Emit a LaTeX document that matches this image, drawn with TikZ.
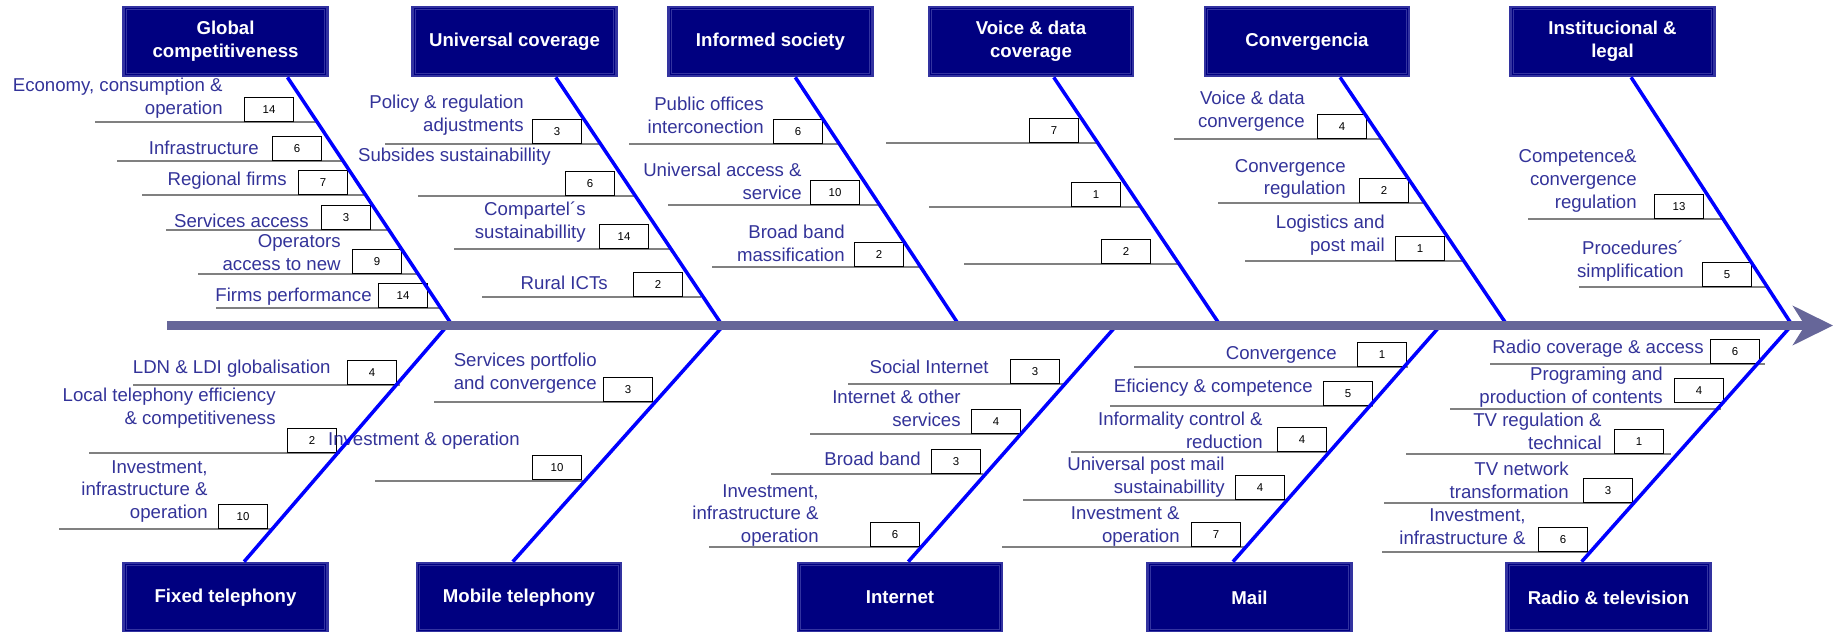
\documentclass[tikz,border=0pt]{standalone}
\usepackage{fontspec}
\setmainfont{Liberation Sans}
\usetikzlibrary{arrows.meta,calc}

\definecolor{headfill}{RGB}{0,0,128}
\definecolor{headedge}{RGB}{51,51,160}
\definecolor{lblblue}{RGB}{51,51,153}
\definecolor{spinegray}{RGB}{102,102,153}
\definecolor{boneblue}{RGB}{0,0,255}
\definecolor{ribgray}{RGB}{128,128,128}

\begin{document}
\begin{tikzpicture}[x=0.02cm, y=-0.02cm]
    \tikzstyle{causebox} = [draw=headedge, line width=1.5pt, fill=headfill, text=white, font=\fontsize{10.6}{13}\selectfont\bfseries, align=center, minimum width=4.08cm, minimum height=1.38cm, inner sep=0pt]
    \tikzstyle{lbl} = [anchor=east, align=right, inner sep=0pt, text=lblblue, font=\fontsize{10.6}{13}\selectfont]
    \tikzstyle{num} = [draw, line width=0.6pt, fill=white, anchor=south west, minimum width=0.98cm, minimum height=0.48cm, inner sep=0pt, font=\fontsize{6.5}{8}\selectfont]
    \tikzstyle{rib} = [draw=ribgray, line width=0.8pt]
    \tikzstyle{bone} = [draw=boneblue, line width=2pt]
    \tikzstyle{spine} = [draw=spinegray, line width=5.1pt, -{Stealth[length=0.8cm, width=0.78cm, inset=0.24cm]}]
    \useasboundingbox (0,0) rectangle (1833,632);

    % causes above the spine
    \node[causebox] (gc) at (225.5,41.5) {Global\\competitiveness};
    \node[causebox] (uc) at (514.5,41.5) {Universal coverage};
    \node[causebox] (is) at (770.5,41.5) {Informed society};
    \node[causebox] (vd) at (1031,41.5) {Voice \& data\\coverage};
    \node[causebox] (cv) at (1307,41.5) {Convergencia};
    \node[causebox] (il) at (1612.5,41.5) {Institucional \&\\legal};
    % causes below the spine
    \node[causebox] (ft) at (225.5,597.5) {Fixed telephony};
    \node[causebox] (mt) at (519,597.5) {Mobile telephony};
    \node[causebox] (it) at (900,597.5) {Internet};
    \node[causebox] (ml) at (1249.5,597.5) {Mail};
    \node[causebox] (rt) at (1608.5,597.5) {Radio \& television};
    \foreach \b in {gc,uc,is,vd,cv,il,ft,mt,it,ml,rt}
        \draw[headedge, line width=0.5pt] ($(\b.south west)+(4,-4)$) rectangle ($(\b.north east)+(-4,4)$);

    % name / text x,y / box x,bottom / value / line y,left,right / text
    \def\riblist{
        g1/223/98.5/244/122/14/122/95/318/{Economy, consumption \&\\operation},
        g2/259/148/272/161/6/161/117/344/{Infrastructure},
        g3/287/181/298/195/7/195/142/367/{Regional firms},
        g4/309/221/321/230/3/230/166/390/{Services access},
        g5/341/253/352/274/9/274/198/419/{Operators\\access to new},
        g6/372/297/378/308/14/308/216/442/{Firms performance},
        u1/524/115.5/532/144/3/144/385/600/{Policy \& regulation\\adjustments},
        u2/551/157/565/196/6/196/418/635/{Subsides sustainabillity},
        u3/586/222/599/249/14/249/454/670/{Compartel´s\\sustainabillity},
        u4/608/283/633/297/2/297/482/701/{Rural ICTs},
        i1/764/115.5/773/144/6/144/629/840/{Public offices\\interconection},
        i2/802/181/810/205/10/205/668/880/{Universal access \&\\service},
        i3/845/243.5/854/267/2/267/712/922/{Broad band\\massification},
        v1/1020/131/1029/143/7/143/886/1098/{},
        v2/1062/195/1071/207/1/207/929/1142/{},
        v3/1092/252/1101/264/2/264/964/1180/{},
        c1/1305/111.5/1317/139/4/139/1174/1383/{Voice \& data\\convergence},
        c2/1346/179/1359/203/2/203/1218/1426/{Convergence\\regulation},
        c3/1385/235/1395/261/1/261/1245/1465/{Logistics and\\post mail},
        l1/1637/181/1654/219/13/219/1528/1723/{Competence\&\\convergence\\regulation},
        l2/1684/261/1702/287/5/287/1579/1769/{Procedures´\\simplification},
        f1/331/369/347/385/4/385/133/400/{LDN \& LDI globalisation},
        f2/276/408/287/453/2/453/89/340/{Local telephony efficiency\\\& competitiveness},
        f3/208/491.5/218/529/10/529/59/272/{Investment,\\infrastructure \&\\operation},
        m1/597/373.5/603/402/3/402/434/657/{Services portfolio\\and convergence},
        m2/520/441/532/480/10/481/375/586/{Investment \& operation},
        n1/989/367/1010/384/3/384/848/1064/{Social Internet},
        n2/961/408/971/434/4/434/810/1019/{Internet \& other\\services},
        n3/921/459/931/474/3/474/771/983/{Broad band},
        n4/819/515.5/870/547/6/547/709/918/{Investment,\\infrastructure \&\\operation},
        p1/1337/355/1357/367/1/367/1134/1408/{Convergence},
        p2/1313/388/1323/406/5/406/1110/1373/{Eficiency \& competence},
        p3/1263/430/1277/452/4/452/1071/1331/{Informality control \&\\reduction},
        p4/1225/477.5/1235/500/4/500/1023/1287/{Universal post mail\\sustainabillity},
        p5/1180/526.5/1191/547/7/547/1002/1245/{Investment \&\\operation},
        r1/1704/349/1710/364/6/364/1490/1765/{Radio coverage \& access},
        r2/1663/387/1674/403/4/409/1450/1721/{Programing and\\production of contents},
        r3/1602/431.5/1614/454/1/454/1406/1671/{TV regulation \&\\technical},
        r4/1569/480/1583/503/3/503/1384/1633/{TV network\\transformation},
        r5/1526/526.5/1538/552/6/552/1382/1591/{Investment,\\infrastructure \&}}

    % ribs with their count boxes, labels on top
    \foreach \nm/\tx/\ty/\bx/\by/\val/\ly/\la/\lb/\txt in \riblist {
        \coordinate (\nm-a) at (\la,\ly);
        \coordinate (\nm-b) at (\lb,\ly);
        \draw[rib] (\nm-a) -- (\nm-b);
        \node[num] (\nm) at (\bx,\by) {\val};
    }
    \foreach \nm/\tx/\ty/\bx/\by/\val/\ly/\la/\lb/\txt in \riblist
        \node[lbl] (\nm-t) at (\tx,\ty) {\txt};

    % bones from the cause boxes down/up to the spine
    \foreach \b/\f/\x in {gc/0.8/452, uc/0.7/722, is/0.62/959, vd/0.61/1220, cv/0.66/1507, il/0.59/1792} {
        \coordinate (\b-j) at (\x,325);
        \draw[bone] ($(\b.south west)!\f!(\b.south east)$) -- (\b-j);
    }
    \foreach \b/\f/\x in {ft/0.59/447, mt/0.47/723, it/0.54/1116, ml/0.42/1440, rt/0.37/1791} {
        \coordinate (\b-j) at (\x,326);
        \draw[bone] ($(\b.north west)!\f!(\b.north east)$) -- (\b-j);
    }

    % spine
    \coordinate (tail) at (167,325.5);
    \coordinate (head) at (1833,325.5);
    \draw[spine] (tail) -- (head);
\end{tikzpicture}
\end{document}
